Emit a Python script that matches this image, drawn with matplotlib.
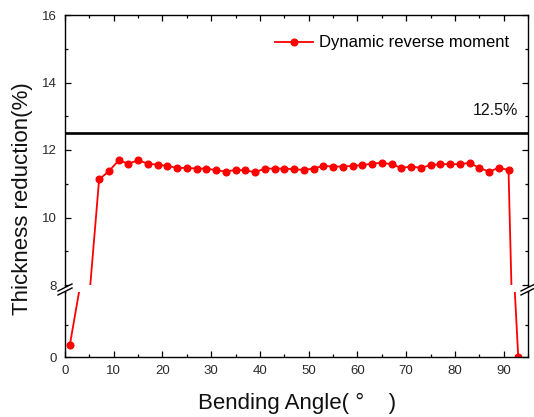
import numpy as np
import matplotlib
matplotlib.use("Agg")
import matplotlib.pyplot as plt
from matplotlib.lines import Line2D
from matplotlib.patches import Polygon
from matplotlib.ticker import MultipleLocator, FixedLocator

plt.rcParams['font.family'] = ['Liberation Sans', 'DejaVu Sans']

# data
angle = [1, 7, 9, 11, 13, 15, 17, 19, 21, 23, 25, 27, 29, 31, 33, 35, 37, 39,
         41, 43, 45, 47, 49, 51, 53, 55, 57, 59, 61, 63, 65, 67, 69, 71, 73,
         75, 77, 79, 81, 83, 85, 87, 89, 91, 93]
reduction = [0.75, 11.13, 11.37, 11.69, 11.60, 11.69, 11.60, 11.56, 11.53,
             11.47, 11.47, 11.45, 11.45, 11.40, 11.36, 11.41, 11.40, 11.34,
             11.45, 11.45, 11.45, 11.43, 11.41, 11.45, 11.53, 11.51, 11.51,
             11.53, 11.55, 11.60, 11.62, 11.58, 11.47, 11.51, 11.47, 11.55,
             11.58, 11.58, 11.58, 11.62, 11.47, 11.36, 11.47, 11.41, 0.0]
limit_value = 12.5
limit_label = '12.5%'
series_name = 'Dynamic reverse moment'

W, H = 534, 417
fig = plt.figure(figsize=(W / 100, H / 100), dpi=100)


def fx(x):
    return x / W


def fy(y):
    return 1 - y / H


left, right = 65, 528
ax_top = fig.add_axes([fx(left), fy(285), fx(right) - fx(left), fy(15) - fy(285)])
ax_bot = fig.add_axes([fx(left), fy(357), fx(right) - fx(left), fy(292) - fy(357)],
                      sharex=ax_top)

style = dict(color='red', lw=1.3, marker='o', ms=4.8)
ax_top.plot(angle, reduction, label=series_name, **style)
ax_bot.plot(angle, reduction, **style)
ax_top.axhline(limit_value, color='black', lw=1.9)
ax_top.text(93, 13.18, limit_label, ha='right', va='center', fontsize=11.5, color='#111')

ax_top.set_xlim(0, 95)
ax_top.set_ylim(8, 16)
ax_bot.set_ylim(0, 4)

ax_top.xaxis.set_major_locator(MultipleLocator(10))
ax_top.xaxis.set_minor_locator(MultipleLocator(5))
ax_top.yaxis.set_major_locator(MultipleLocator(2))
ax_top.yaxis.set_minor_locator(MultipleLocator(1))
ax_bot.yaxis.set_major_locator(FixedLocator([0]))
ax_bot.yaxis.set_minor_locator(FixedLocator([2]))

for ax in (ax_top, ax_bot):
    for s in ax.spines.values():
        s.set_linewidth(1.0)
    ax.tick_params(which='both', direction='in', right=True, labelsize=9.5,
                   labelcolor='#2a2a2a', width=0.9)
    ax.tick_params(which='major', length=4.5)
    ax.tick_params(which='minor', length=2.5)
    ax.tick_params(axis='y', pad=6)

ax_top.spines['bottom'].set_visible(False)
ax_top.tick_params(which='both', top=True, bottom=False, labelbottom=False)
ax_bot.spines['top'].set_visible(False)
ax_bot.tick_params(which='both', top=False)
ax_bot.tick_params(axis='x', pad=6)

leg = ax_top.legend(loc='center left', bbox_to_anchor=(fx(275), fy(43)),
                    bbox_transform=fig.transFigure, frameon=False, fontsize=12,
                    handlelength=2.3, handletextpad=0.35, borderpad=0,
                    borderaxespad=0, numpoints=1)

# axis break marks
for xs in (left, right):
    fig.add_artist(Line2D([fx(xs), fx(xs)], [fy(285), fy(292)], color='black', lw=1.0))
    poly = Polygon([(fx(xs - 7), fy(291)), (fx(xs + 7), fy(284)),
                    (fx(xs + 7), fy(288)), (fx(xs - 7), fy(295))],
                   closed=True, transform=fig.transFigure, facecolor='white',
                   edgecolor='none', zorder=5)
    fig.add_artist(poly)
    for dy in (0, 4):
        fig.add_artist(Line2D([fx(xs - 7), fx(xs + 7)], [fy(291 + dy), fy(284 + dy)],
                              color='black', lw=1.0, zorder=6))

fig.text(fx(297), fy(403), 'Bending Angle( \u00b0    )', ha='center', va='center',
         fontsize=16, color='#111')
fig.text(fx(23), fy(199), 'Thickness reduction(%)', ha='center', va='center',
         rotation=90, fontsize=16, color='#111')

fig.savefig('out.png', dpi=100)
